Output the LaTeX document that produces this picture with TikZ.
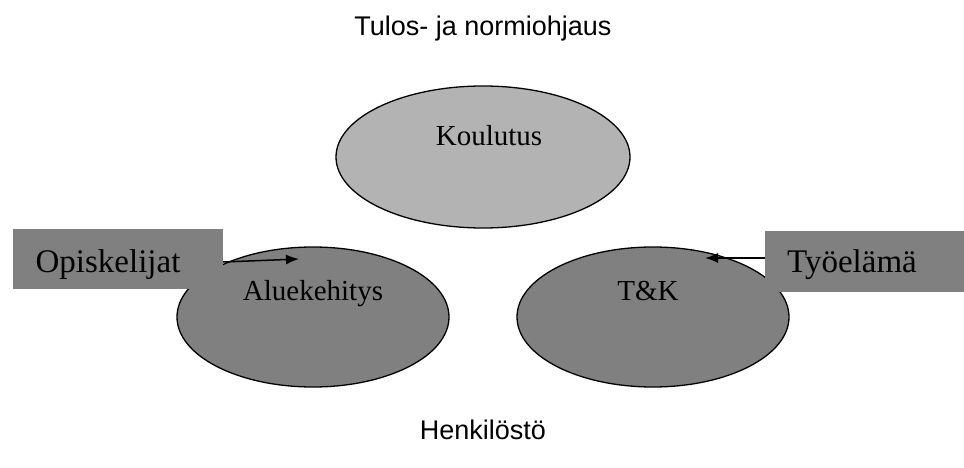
\documentclass[tikz,border=0pt]{standalone}
\usepackage{fontspec}
\setmainfont{Liberation Serif}
\newfontfamily\arialish{Liberation Sans}
\usetikzlibrary{shapes.geometric,arrows.meta}
\definecolor{lightfill}{HTML}{B3B3B3}
\definecolor{darkfill}{HTML}{808080}
\tikzset{
  oval/.style={ellipse,draw=black,line width=1.3pt,inner sep=0pt},
  tagbox/.style={rectangle,fill=darkfill,draw=none,inner sep=0pt},
  serifbig/.style={font=\fontsize{33}{36}\selectfont,anchor=base,inner sep=0pt},
  serifmid/.style={font=\fontsize{29}{32}\selectfont,anchor=base,inner sep=0pt},
  sanstitle/.style={font=\arialish\fontsize{27}{30}\selectfont,anchor=base,inner sep=0pt},
  arr/.style={line width=1.5pt,-{Latex[length=13pt,width=10pt]}}
}
\begin{document}
\begin{tikzpicture}[x=1pt,y=-1pt]
\useasboundingbox (0,0) rectangle (964,468);
% ellipses
\node[oval,fill=lightfill,minimum width=294pt,minimum height=142pt] (kou) at (483,157) {};
\node[oval,fill=darkfill,minimum width=272pt,minimum height=140pt] (alu) at (313,317) {};
\node[oval,fill=darkfill,minimum width=272pt,minimum height=140pt] (tk) at (653,317) {};
\node[serifmid] (koutxt) at (489,146) {Koulutus};
\node[serifmid] (alutxt) at (313,300) {Aluekehitys};
\node[serifmid] (tktxt) at (648,300) {T\&K};
% boxes
\node[tagbox,minimum width=210pt,minimum height=60pt] (opbox) at (118,259) {};
\node[serifbig] (optxt) at (108,272) {Opiskelijat};
\node[tagbox,minimum width=199pt,minimum height=61pt] (tybox) at (864.5,261.5) {};
\node[serifbig] (tytxt) at (852,272) {Työelämä};
% arrows
\coordinate (optip) at (299,259);
\coordinate (tytip) at (705,258);
\draw[arr] ([yshift=-3pt]opbox.east) -- (optip);
\draw[arr] ([yshift=3.5pt]tybox.west) -- (tytip);
% titles
\node[sanstitle] (top) at (483,36) {Tulos- ja normiohjaus};
\node[sanstitle] (bot) at (483,439) {Henkilöstö};
\end{tikzpicture}
\end{document}
